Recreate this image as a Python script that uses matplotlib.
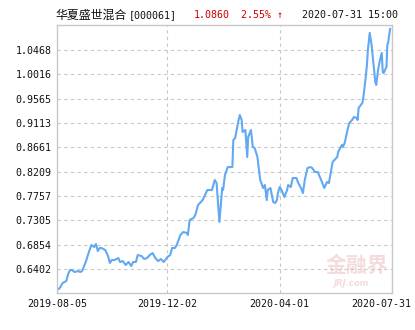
#!/usr/bin/env python3
import matplotlib as mpl
mpl.use('Agg')
import matplotlib.pyplot as plt
import matplotlib.dates as mdates
from matplotlib.transforms import ScaledTranslation
import pandas as pd

# net value curve
dates = [
    '2019-08-05', '2019-08-08', '2019-08-11', '2019-08-15', '2019-08-17', '2019-08-19',
    '2019-08-21', '2019-08-24', '2019-08-28', '2019-08-30', '2019-09-01', '2019-09-05',
    '2019-09-08', '2019-09-11', '2019-09-14', '2019-09-16', '2019-09-18', '2019-09-20',
    '2019-09-22', '2019-09-26', '2019-09-29', '2019-10-01', '2019-10-03', '2019-10-06',
    '2019-10-10', '2019-10-12', '2019-10-15', '2019-10-18', '2019-10-21', '2019-10-24',
    '2019-10-26', '2019-10-29', '2019-10-31', '2019-11-04', '2019-11-07', '2019-11-10',
    '2019-11-13', '2019-11-16', '2019-11-19', '2019-11-22', '2019-11-25', '2019-11-28',
    '2019-12-02', '2019-12-05', '2019-12-07', '2019-12-10', '2019-12-12', '2019-12-16',
    '2019-12-19', '2019-12-23', '2019-12-24', '2019-12-26', '2019-12-30', '2020-01-01',
    '2020-01-04', '2020-01-06', '2020-01-09', '2020-01-14', '2020-01-17', '2020-01-19',
    '2020-01-22', '2020-01-24', '2020-01-27', '2020-01-30', '2020-01-31', '2020-02-02',
    '2020-02-05', '2020-02-07', '2020-02-10', '2020-02-11', '2020-02-13', '2020-02-16',
    '2020-02-18', '2020-02-20', '2020-02-21', '2020-02-24', '2020-02-26', '2020-02-27',
    '2020-03-01', '2020-03-03', '2020-03-05', '2020-03-08', '2020-03-09', '2020-03-11',
    '2020-03-13', '2020-03-14', '2020-03-16', '2020-03-18', '2020-03-19', '2020-03-22',
    '2020-03-24', '2020-03-25', '2020-03-27', '2020-03-29', '2020-03-30', '2020-04-01',
    '2020-04-03', '2020-04-06', '2020-04-09', '2020-04-10', '2020-04-13', '2020-04-15',
    '2020-04-19', '2020-04-21', '2020-04-24', '2020-04-26', '2020-04-28', '2020-05-01',
    '2020-05-04', '2020-05-06', '2020-05-09', '2020-05-12', '2020-05-17', '2020-05-19',
    '2020-05-22', '2020-05-24', '2020-05-27', '2020-05-28', '2020-06-02', '2020-06-03',
    '2020-06-07', '2020-06-08', '2020-06-10', '2020-06-13', '2020-06-15', '2020-06-18',
    '2020-06-20', '2020-06-23', '2020-06-24', '2020-06-25', '2020-06-29', '2020-06-30',
    '2020-07-02', '2020-07-04', '2020-07-05', '2020-07-07', '2020-07-09', '2020-07-11',
    '2020-07-13', '2020-07-14', '2020-07-16', '2020-07-18', '2020-07-20', '2020-07-21',
    '2020-07-22', '2020-07-25', '2020-07-26', '2020-07-27', '2020-07-28', '2020-07-29',
]
nav = [
    0.6011, 0.6048, 0.6141, 0.6178, 0.6308, 0.6383,
    0.6383, 0.6345, 0.6364, 0.6345, 0.6364, 0.6531,
    0.6698, 0.6847, 0.6810, 0.6865, 0.6735, 0.6791,
    0.6791, 0.6754, 0.6643, 0.6513, 0.6568, 0.6568,
    0.6605, 0.6531, 0.6550, 0.6475, 0.6531, 0.6457,
    0.6531, 0.6531, 0.6661, 0.6643, 0.6587, 0.6605,
    0.6661, 0.6698, 0.6605, 0.6550, 0.6587, 0.6531,
    0.6624, 0.6661, 0.6791, 0.6791, 0.6847, 0.7033,
    0.7088, 0.7070, 0.7033, 0.7311, 0.7348, 0.7404,
    0.7590, 0.7627, 0.7682, 0.7868, 0.7868, 0.7868,
    0.8054, 0.7998, 0.7274, 0.7905, 0.7868, 0.8147,
    0.8295, 0.8295, 0.8295, 0.8797, 0.8834, 0.9112,
    0.9261, 0.9168, 0.8945, 0.8982, 0.8481, 0.8852,
    0.8982, 0.8667, 0.8648, 0.8481, 0.8332, 0.8054,
    0.7961, 0.7905, 0.7961, 0.7682, 0.7868, 0.7905,
    0.7738, 0.7645, 0.7627, 0.7682, 0.7812, 0.7924,
    0.7868, 0.7738, 0.7868, 0.7961, 0.7924, 0.8091,
    0.8091, 0.7998, 0.7905, 0.7812, 0.8054, 0.8277,
    0.8295, 0.8277, 0.8202, 0.8202, 0.7998, 0.7905,
    0.8017, 0.7998, 0.8295, 0.8388, 0.8481, 0.8574,
    0.8704, 0.8667, 0.8741, 0.8982, 0.9112, 0.9168,
    0.9224, 0.9205, 0.9168, 0.9391, 0.9484, 0.9577,
    0.9855, 1.0189, 1.0468, 1.0784, 1.0561, 1.0227,
    0.9874, 0.9818, 1.0097, 1.0282, 1.0412, 1.0059,
    1.0041, 1.0152, 1.0561, 1.0617, 1.0747, 1.0860,
]
y_ticks = [0.6402, 0.6854, 0.7305, 0.7757, 0.8209, 0.8661, 0.9113, 0.9565, 1.0016, 1.0468]
x_ticks = ['2019-08-05', '2019-12-02', '2020-04-01', '2020-07-31']

fund_name = '华夏盛世混合'
fund_code = '[000061]'
last_nav = '1.0860'
last_chg = '2.55% ↑'
stamp = '2020-07-31 15:00'

mono = 'DejaVu Sans Mono'
cjk = ['Noto Sans CJK SC', 'DejaVu Sans']

x = pd.to_datetime(dates)
xt = pd.to_datetime(x_ticks)

fig = plt.figure(figsize=(4.15, 3.30), dpi=100)
ax = fig.add_axes([57/415, 1 - 293/330, 335/415, 268/330])

ax.plot(x, nav, color='#62a8f2', lw=1.5, solid_joinstyle='round')

ax.set_xlim(xt[0], xt[-1])
ax.set_ylim(0.5956, 1.0932)
ax.set_yticks(y_ticks)
ax.set_yticklabels(['%.4f' % v for v in y_ticks], family=mono, fontsize=7.2)
ax.set_xticks(xt)
ax.set_xticklabels(x_ticks, family=mono, fontsize=7.2)
ax.tick_params(length=0, pad=4, colors='#111111')
ax.grid(True, color='#c8c8c8', ls=(0, (3, 3)), lw=0.8)
for s in ax.spines.values():
    s.set_color('#c8c8c8')
    s.set_linewidth(1.0)

# last date label sits inside the figure
lab = ax.get_xticklabels()[-1]
lab.set_transform(lab.get_transform() + ScaledTranslation(-0.11, 0, fig.dpi_scale_trans))

# watermark
ax.text(0.99, 0.065, '金融界', transform=ax.transAxes, ha='right', va='bottom',
        family=cjk, fontsize=15, weight='bold', color='#f5dcdc', zorder=0)
ax.text(0.93, 0.02, 'JRJ.com', transform=ax.transAxes, ha='right', va='bottom',
        family='DejaVu Sans', fontsize=6, style='italic', weight='bold', color='#f5dcdc', zorder=0)

# header line
ty = 1 - 15/330
fig.text(55/415, ty, fund_name, family=cjk, fontsize=8.6, va='center', color='#111111')
fig.text(129/415, ty, fund_code, family=mono, fontsize=7.2, va='center', color='#111111')
fig.text(194/415, ty, last_nav, family=mono, fontsize=7.2, va='center', color='#cc0000')
fig.text(241/415, ty, last_chg, family=mono, fontsize=7.2, va='center', color='#cc0000')
fig.text(302/415, ty, stamp, family=mono, fontsize=7.2, va='center', color='#111111')

plt.savefig('out.png', dpi=100)
